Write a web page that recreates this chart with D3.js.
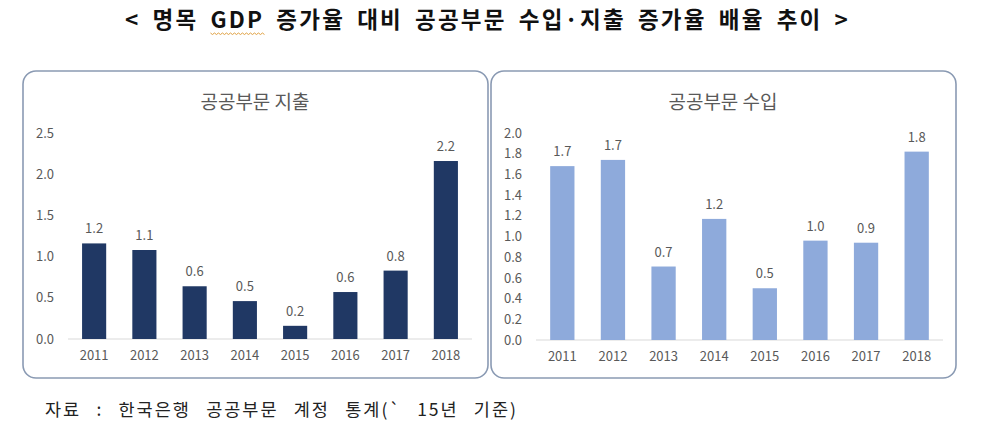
<!DOCTYPE html>
<html><head><meta charset="utf-8">
<script src="https://cdn.jsdelivr.net/npm/d3@7"></script>
<style>
html,body{margin:0;padding:0;background:#fff;}
svg{display:block;}
text{font-family:"Noto Sans CJK KR","Noto Sans",sans-serif;}
</style></head>
<body>
<svg id="chart" width="986" height="430"></svg>
<script>
const years = ["2011","2012","2013","2014","2015","2016","2017","2018"];
const spending = [1.16, 1.08, 0.64, 0.46, 0.16, 0.57, 0.83, 2.16];
const revenue = [1.68, 1.74, 0.71, 1.17, 0.50, 0.96, 0.94, 1.82];
const spendingTicks = [0, 0.5, 1.0, 1.5, 2.0, 2.5];
const revenueTicks = [0, 0.2, 0.4, 0.6, 0.8, 1.0, 1.2, 1.4, 1.6, 1.8, 2.0];
const mainTitle = "< 명목 GDP 증가율 대비 공공부문 수입·지출 증가율 배율 추이 >";
const panelTitles = ["공공부문 지출", "공공부문 수입"];
const sourceNote = "자료 : 한국은행 공공부문 계정 통계(` 15년 기준)";

const svg = d3.select("#chart");
const gray = "#595959";

function spreadWords(sel, target, str) {
  const nat = sel.node().getComputedTextLength();
  const spaces = (str.match(/ /g) || []).length;
  if (spaces > 0 && nat < target) sel.style("word-spacing", ((target - nat) / spaces) + "px");
}

// Main title
const t = svg.append("text")
  .attr("x", 125).attr("y", 28)
  .style("font-size", "22.5px").style("font-weight", "bold").style("letter-spacing", "2.2px")
  .attr("fill", "#111")
  .text(mainTitle);
spreadWords(t, 725, mainTitle);
// spell-check style wavy underline under "GDP"
try {
  const idx = mainTitle.indexOf("GDP");
  const node = t.node();
  const sx = node.getStartPositionOfChar(idx).x;
  const ex = node.getEndPositionOfChar(idx + 2).x;
  let d = "M" + sx + ",33";
  for (let x = sx, k = 0; x < ex; x += 2, k++) d += "L" + (x + 2) + "," + (k % 2 ? 33 : 34.5);
  svg.append("path").attr("d", d).attr("fill", "none").attr("stroke", "#e0a040").attr("stroke-width", 1);
} catch (e) {}

function panel(cfg) {
  const g = svg.append("g");
  g.append("rect")
    .attr("x", cfg.px).attr("y", 71).attr("width", 465).attr("height", 307)
    .attr("rx", 13).attr("ry", 13)
    .attr("fill", "#fff").attr("stroke", "#8a9ab3").attr("stroke-width", 1.6);
  g.append("text")
    .attr("x", cfg.px + 232).attr("y", 100).attr("text-anchor", "middle")
    .attr("dominant-baseline", "central")
    .style("font-size", "19px").attr("fill", gray).text(cfg.title);

  const x = d3.scaleBand().domain(years).range([cfg.x0, cfg.x1])
    .paddingInner(0.52).paddingOuter(0.28);
  const y = d3.scaleLinear().domain([0, cfg.max]).range([cfg.yb, cfg.yt]);

  const yAxis = d3.axisLeft(y).tickValues(cfg.ticks).tickFormat(d3.format(".1f"))
    .tickSize(0).tickPadding(14);
  const ya = g.append("g").attr("transform", `translate(${cfg.x0},0)`).call(yAxis);
  ya.select(".domain").remove();
  ya.selectAll("text").style("font-size", "13px").attr("fill", gray)
    .attr("font-family", "'Noto Sans CJK KR','Noto Sans',sans-serif");

  g.append("line").attr("x1", cfg.x0).attr("x2", cfg.x1)
    .attr("y1", cfg.yb).attr("y2", cfg.yb)
    .attr("stroke", "#d9d9d9").attr("stroke-width", 1);

  const xAxis = d3.axisBottom(x).tickSize(0).tickPadding(12);
  const xa = g.append("g").attr("transform", `translate(0,${cfg.yb})`).call(xAxis);
  xa.select(".domain").remove();
  xa.selectAll("text").style("font-size", "13px").attr("fill", gray)
    .attr("font-family", "'Noto Sans CJK KR','Noto Sans',sans-serif");

  g.selectAll("rect.bar").data(cfg.values).join("rect").attr("class", "bar")
    .attr("x", (d, i) => x(years[i])).attr("width", x.bandwidth())
    .attr("y", d => y(d)).attr("height", d => cfg.yb - y(d))
    .attr("fill", cfg.color);

  g.selectAll("text.val").data(cfg.values).join("text").attr("class", "val")
    .attr("x", (d, i) => x(years[i]) + x.bandwidth() / 2)
    .attr("y", d => y(d) - 10)
    .attr("text-anchor", "middle")
    .style("font-size", "13px").attr("fill", gray)
    .text(d => d.toFixed(1));
}

panel({px: 23, title: panelTitles[0], x0: 68, x1: 472, yb: 339, yt: 133, max: 2.5,
       ticks: spendingTicks, values: spending, color: "#203864"});
panel({px: 491, title: panelTitles[1], x0: 536, x1: 943, yb: 340, yt: 133, max: 2.0,
       ticks: revenueTicks, values: revenue, color: "#8eaadb"});

const fn = svg.append("text").attr("x", 45).attr("y", 416)
  .style("font-size", "17.5px").style("letter-spacing", "2px").attr("fill", "#222").text(sourceNote);
spreadWords(fn, 473, sourceNote);
</script>
</body></html>
